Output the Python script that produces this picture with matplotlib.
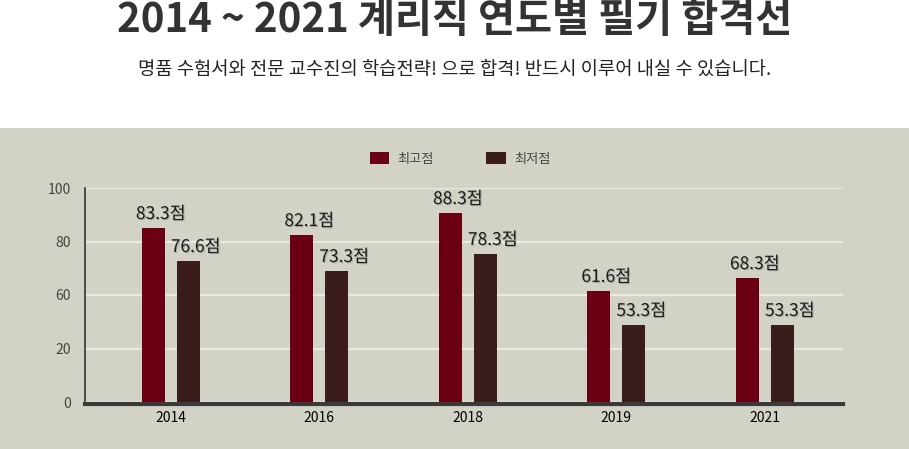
import matplotlib.pyplot as plt
import matplotlib.patheffects as pe
from matplotlib.patches import Rectangle
import numpy as np

plt.rcParams["font.family"] = ["Noto Sans CJK KR", "DejaVu Sans"]

years = ["2014", "2016", "2018", "2019", "2021"]
# bar heights as drawn on the chart's own 0-100 scale
high_heights = [81.3, 78.0, 88.3, 51.9, 57.9]
low_heights = [65.9, 61.2, 69.2, 36.0, 36.0]
# value labels printed over the bars
high_labels = ["83.3점", "82.1점", "88.3점", "61.6점", "68.3점"]
low_labels = ["76.6점", "73.3점", "78.3점", "53.3점", "53.3점"]
ytick_values = [0, 25, 50, 75, 100]
ytick_labels = ["0", "20", "60", "80", "100"]

title = "2014 ~ 2021 계리직 연도별 필기 합격선"
subtitle = "명품 수험서와 전문 교수진의 학습전략! 으로 합격! 반드시 이루어 내실 수 있습니다."

RED = "#6a0011"
DARK = "#3b1c1c"
BG = "#d3d2c6"
GRID = "#eae9e0"

fig = plt.figure(figsize=(9.09, 4.49), dpi=100)
fig.patch.set_facecolor("white")
fig.patches.append(Rectangle((0, 0), 1, 321 / 449, transform=fig.transFigure,
                             facecolor=BG, edgecolor="none", zorder=-10))

fig.text(0.5, 1 - 20 / 449, title, ha="center", va="center",
         fontsize=29, fontweight="black", color="#333333")
fig.text(0.5, 1 - 69 / 449, subtitle, ha="center", va="center",
         fontsize=13.5, color="#222222")

ax = fig.add_axes([85 / 909, 47 / 449, 758 / 909, 214 / 449])
ax.set_facecolor(BG)

x = np.arange(len(years))
w = 0.155
off = 0.118
ax.bar(x - off, high_heights, w, color=RED, label="최고점", zorder=3)
ax.bar(x + off, low_heights, w, color=DARK, label="최저점", zorder=3)

shadow = [pe.withSimplePatchShadow(offset=(0.8, -0.8), shadow_rgbFace="#888888", alpha=0.5)]
for xi, h, t in zip(x - off, high_heights, high_labels):
    ax.annotate(t, (xi, h), xytext=(5.5, 6.5), textcoords="offset points",
                ha="center", va="baseline", fontsize=12.5, color="#1a1a1a",
                path_effects=shadow, zorder=4)
for xi, h, t in zip(x + off, low_heights, low_labels):
    ax.annotate(t, (xi, h), xytext=(5.5, 6.5), textcoords="offset points",
                ha="center", va="baseline", fontsize=12.5, color="#1a1a1a",
                path_effects=shadow, zorder=4)

ax.set_xlim(-0.576, 4.528)
ax.set_ylim(0, 100)
ax.set_xticks(x)
ax.set_xticklabels(years, fontsize=10, color="#444444", fontweight="light")
ax.set_yticks(ytick_values)
ax.set_yticklabels(ytick_labels, fontsize=10, color="#444444", fontweight="light")
ax.tick_params(axis="both", length=0)
ax.tick_params(axis="y", pad=10)
ax.tick_params(axis="x", pad=5)

ax.grid(axis="y", color=GRID, linewidth=1.6, zorder=0)
ax.set_axisbelow(True)

for side in ["top", "right"]:
    ax.spines[side].set_visible(False)
ax.spines["left"].set_color("#333333")
ax.spines["left"].set_linewidth(1.2)
ax.spines["bottom"].set_color("#3a3a3a")
ax.spines["bottom"].set_linewidth(3)
ax.spines["bottom"].set_position(("outward", 1.5))
ax.spines["bottom"].set_zorder(5)

leg = fig.legend(loc="center", bbox_to_anchor=(460 / 909, 1 - 159 / 449), ncol=2,
                 frameon=False, fontsize=9.5, handlelength=1.5, handleheight=1.0,
                 columnspacing=4.0, handletextpad=0.6)
for t in leg.get_texts():
    t.set_color("#444444")

fig.savefig("out.png", dpi=100, facecolor=fig.get_facecolor())
